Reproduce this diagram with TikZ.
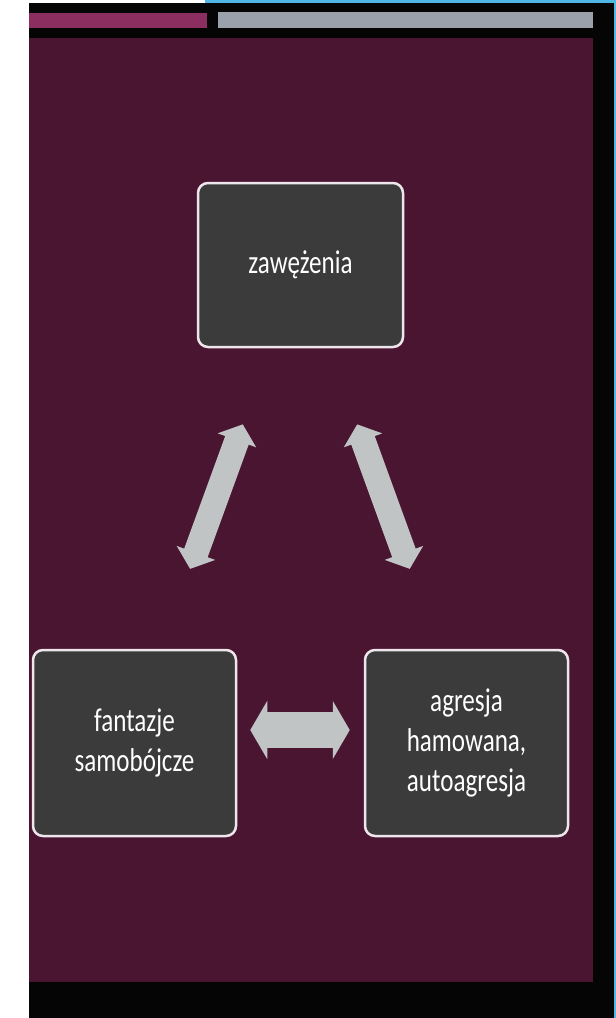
\documentclass[tikz,border=0pt]{standalone}
\usepackage{fontspec}
\setmainfont{Carlito}[FakeStretch=0.76]
\usetikzlibrary{arrows.meta}
\definecolor{maroon}{HTML}{4A1531}
\definecolor{barpink}{HTML}{8C2F60}
\definecolor{bargray}{HTML}{9BA1AB}
\definecolor{boxgray}{HTML}{3B3B3B}
\definecolor{boxrim}{HTML}{EEE6EC}
\definecolor{arrowgray}{HTML}{C0C4C5}
\definecolor{edgecyan}{HTML}{4FB8E6}
\begin{document}
\begin{tikzpicture}[
			x=1pt, y=-1pt,
			box/.style={rectangle, rounded corners=10pt, draw=boxrim, line width=2.5pt, fill=boxgray,
					text=white, align=center, font=\fontsize{33}{40}\selectfont},
			twoway/.style={draw=arrowgray, line width=#1, {Triangle[width=1.6*#1,length=17pt]}-{Triangle[width=1.6*#1,length=17pt]}}
		]
		\useasboundingbox (0,0) rectangle (616,1018);
		\fill[white] (0,0) rectangle (616,1018);
		\fill[black!98] (29,3) rectangle (614,1018);
		\fill[edgecyan] (205,0) rectangle (616,3);
		\fill[edgecyan] (614,0) rectangle (616,1018);
		\fill[barpink] (29,13) rectangle (207,28);
		\fill[bargray] (218,12) rectangle (593,28);
		\fill[maroon] (29,38) rectangle (593,982);
		% the three boxes
		\node[box, minimum width=205pt, minimum height=164pt] (zaw) at (300.5,265) {zawężenia};
		\node[box, minimum width=203pt, minimum height=186pt] (fant) at (134.5,743) {fantazje\\samobójcze};
		\node[box, minimum width=203pt, minimum height=186pt] (agr) at (466.5,743) {agresja\\hamowana,\\autoagresja};
		% arrows between them
		\draw[twoway=25pt, shorten <=81pt, shorten >=85pt] ([xshift=-30pt]zaw.south) -- ([xshift=26.5pt]fant.north);
		\draw[twoway=25pt, shorten <=81pt, shorten >=85pt] ([xshift=29pt]zaw.south) -- ([xshift=-27.7pt]agr.north);
		\draw[twoway=36pt, shorten <=13pt, shorten >=14pt] ([yshift=13pt]fant.east) -- ([yshift=13pt]agr.west);
	\end{tikzpicture}
\end{document}
